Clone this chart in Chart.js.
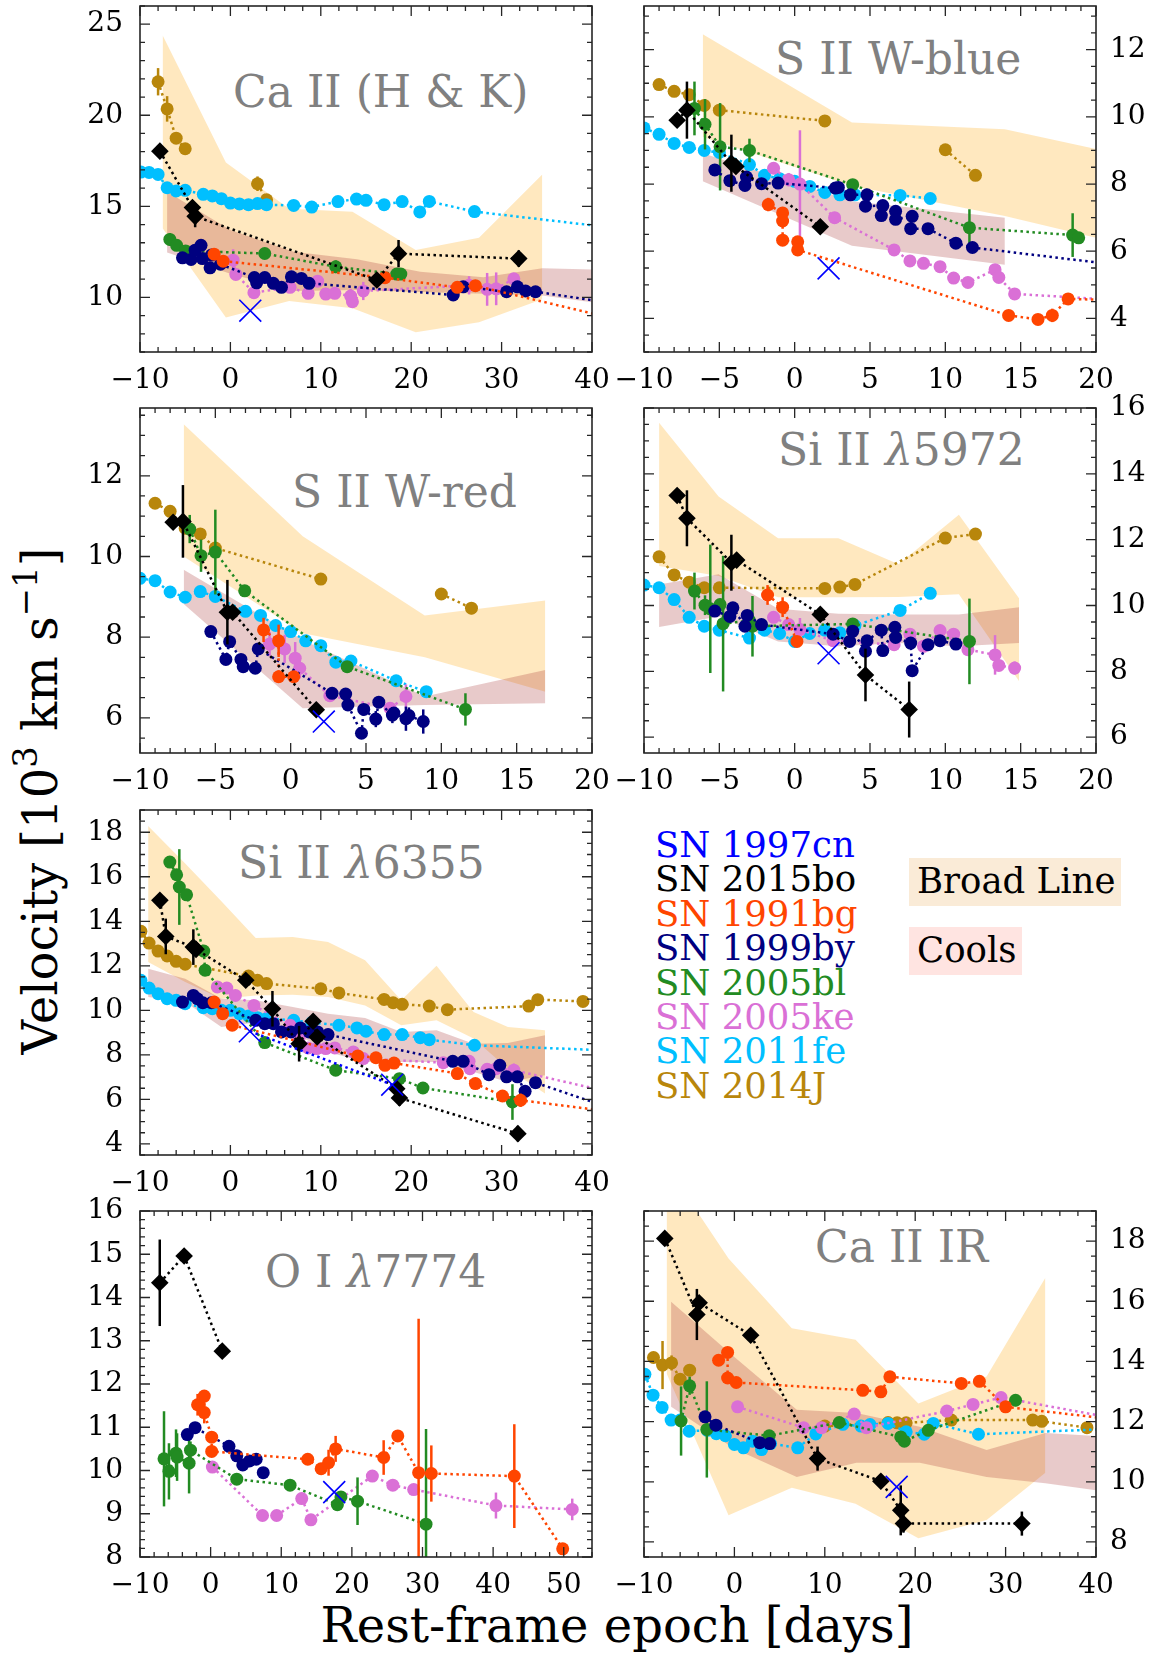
<!DOCTYPE html>
<html>
<head>
<meta charset="utf-8">
<script src="https://cdn.jsdelivr.net/npm/chart.js@4.4.1/dist/chart.umd.min.js"></script>
<style>
  body { margin: 0; background: #fff; width: 1161px; height: 1655px; position: relative; overflow: hidden; font-family: 'DejaVu Serif', serif; }
  canvas { position: absolute; }
  .txt { position: absolute; white-space: nowrap; line-height: 1; }
  .ttl { font-size: 44px; color: #808080; }
  .legend { position: absolute; left: 655px; top: 828px; font-size: 35.5px; line-height: 34.4px; white-space: nowrap; }
  .box { position: absolute; font-size: 35.5px; line-height: 45px; height: 48px; padding-left: 8px; box-sizing: border-box; white-space: nowrap; }
</style>
</head>
<body>

<div class="txt ttl" style="left:233px;top:70px">Ca II (H &amp; K)</div>
<div class="txt ttl" style="left:775px;top:37px">S II W-blue</div>
<div class="txt ttl" style="left:292px;top:470px">S II W-red</div>
<div class="txt ttl" style="left:778px;top:428px">Si II <i>λ</i>5972</div>
<div class="txt ttl" style="left:238px;top:841px">Si II <i>λ</i>6355</div>
<div class="txt ttl" style="left:265px;top:1250px">O I <i>λ</i>7774</div>
<div class="txt ttl" style="left:815px;top:1225px">Ca II IR</div>

<div class="legend">
  <div style="color:#0000ff">SN 1997cn</div>
  <div style="color:#000000">SN 2015bo</div>
  <div style="color:#ff4500">SN 1991bg</div>
  <div style="color:#000080">SN 1999by</div>
  <div style="color:#228b22">SN 2005bl</div>
  <div style="color:#da70d6">SN 2005ke</div>
  <div style="color:#00bfff">SN 2011fe</div>
  <div style="color:#b8860b">SN 2014J</div>
</div>
<div class="box" style="left:909px;top:858px;width:212px;background:#faebd7">Broad Line</div>
<div class="box" style="left:909px;top:927px;width:113px;background:#ffe4e1">Cools</div>

<div class="txt" style="left:40px;top:801px;font-size:48px;transform:translate(-50%,-50%) rotate(-90deg)">Velocity [10<span style="font-size:34px;position:relative;top:-20px">3</span> km s<span style="font-size:34px;position:relative;top:-20px">−1</span>]</div>
<div class="txt" style="left:617px;top:1601px;font-size:48px;transform:translateX(-50%)">Rest-frame epoch [days]</div>

<script>
// supernova names and colours (legend order)
const snNames = ["1997cn", "2015bo", "1991bg", "1999by", "2005bl", "2005ke", "2011fe", "2014J"];
const snColors = ["#0000ff", "#000000", "#ff4500", "#000080", "#228b22", "#da70d6", "#00bfff", "#b8860b"];

// ---- Ca II (H & K) : [epoch, velocity, error] ----
const caHK_97cn = [[2.2, 9.27, 0]];
const caHK_15bo = [[-7.8, 18.03, 0], [-4.2, 14.93, 0.4], [-3.9, 14.45, 0.6], [16.2, 10.95, 0], [18.6, 12.4, 0.75], [31.9, 12.13, 0.45]];
const caHK_91bg = [[-1.8, 12.37, 0], [-0.8, 11.99, 0], [17.1, 11.08, 0], [25.1, 10.55, 0], [27.1, 10.64, 0], [45, 8.53, 0]];
const caHK_99by = [[-5.3, 12.17, 0], [-4.35, 12.08, 0], [-3.9, 12.59, 0], [-3.25, 12.86, 0], [-3.1, 12.13, 0], [-2.25, 11.62, 0], [-2.1, 12.32, 0], [-1.1, 11.82, 0], [2.65, 11.09, 0], [2.9, 10.8, 0], [3.8, 11.09, 0], [4.75, 10.77, 0], [5.65, 10.55, 0], [6.75, 11.13, 0], [7.85, 11.04, 0], [8.7, 10.77, 0], [24.65, 10.13, 0.2], [25.75, 10.58, 0], [30.55, 10.31, 0], [31.75, 10.58, 0], [32.65, 10.35, 0], [33.75, 10.31, 0], [45, 9.48, 0]];
const caHK_05bl = [[-6.7, 13.18, 0.35], [-5.95, 12.86, 0.3], [-4.95, 12.55, 0.3], [3.8, 12.41, 0], [11.65, 11.68, 0.35], [18.4, 11.28, 0], [18.85, 11.28, 0]];
const caHK_05ke = [[0.3, 12.04, 0.6], [0.6, 11.26, 0], [2.6, 10.26, 0], [6.6, 10.55, 0], [8.6, 10.22, 0], [9.65, 10.89, 0], [10.55, 10.18, 0], [11.55, 10.22, 0], [13.3, 10.07, 0.4], [13.5, 9.76, 0.3], [14.7, 10.35, 0.5], [26.4, 10.66, 0.5], [28.4, 10.44, 0.9], [29.4, 10.47, 0.9], [31.35, 11.02, 0.3]];
const caHK_11fe = [[-9.9, 16.88, 0], [-9, 16.86, 0], [-8, 16.75, 0], [-7, 16.02, 0], [-6, 15.84, 0], [-5, 15.88, 0], [-3, 15.66, 0], [-2, 15.57, 0], [-1, 15.42, 0], [0, 15.18, 0], [1, 15.13, 0], [2, 15.09, 0], [3, 15.15, 0], [4, 15.09, 0], [7, 15.05, 0], [9, 14.96, 0], [11.9, 15.26, 0], [13.95, 15.4, 0], [15, 15.33, 0], [17, 15.09, 0], [19, 15.26, 0], [20.95, 14.69, 0], [22, 15.27, 0], [27, 14.71, 0], [45, 13.67, 0]];
const caHK_14J = [[-8, 21.84, 0.75], [-7, 20.35, 0.7], [-6, 18.74, 0.3], [-5, 18.16, 0], [0, null, 0], [3, 16.24, 0.4], [4, 15.36, 0]];
const caHK_broad = [[-7.5, 13.8, 24.4], [-0.5, 8.9, 17.4], [6.5, 9.8, 14.87], [13.5, 9.4, 14.7], [20.5, 8.08, 12.6], [27.5, 8.63, 13.27], [34.5, 9.9, 16.75]];
const caHK_cool = [[-7, 12.46, 15.8], [0, 11.3, 13.7], [7, 10.35, 12.5], [14, 10.4, 12.1], [21, 10.3, 11.4], [28, 10.2, 11.1], [34.5, 10.1, 11.6], [42, 9.6, 11.5]];

// ---- S II W-blue ----
const sb_97cn = [[2.25, 5.49, 0]];
const sb_15bo = [[-7.8, 9.9, 0], [-7.15, 10.2, 0.85], [-4.2, 8.62, 0.85], [-3.9, 8.52, 0], [1.7, 6.73, 0]];
const sb_91bg = [[-1.75, 7.39, 0.2], [-0.8, 7.14, 0.15], [-0.8, 6.9, 0], [-0.8, 6.33, 0], [0.2, 6.28, 0.15], [0.2, 6.04, 0], [14.2, 4.09, 0], [16.15, 3.97, 0], [17.1, 4.09, 0.2], [18.15, 4.58, 0.1], [25, 4.5, 0]];
const sb_99by = [[-5.3, 8.42, 0], [-4.3, 8.1, 0], [-3.3, 7.96, 0], [-3.2, 8.21, 0], [-2.2, 8.01, 0], [-1.1, 8.03, 0], [2.7, 7.88, 0], [2.9, 7.9, 0], [3.7, 7.68, 0], [4.8, 7.68, 0], [4.7, 7.34, 0], [5.85, 7.36, 0], [5.75, 7.06, 0], [6.7, 7.19, 0], [6.7, 6.95, 0], [7.8, 7.04, 0], [7.7, 6.67, 0], [8.85, 6.67, 0], [10.7, 6.24, 0], [11.8, 6.11, 0], [25, 5.4, 0]];
const sb_05bl = [[-6.65, 10.25, 0.8], [-5.95, 9.78, 0.75], [-4.95, 9.11, 1.3], [-3.0, 9.0, 0.35], [3.85, 7.98, 0], [11.6, 6.7, 0.55], [18.45, 6.48, 0.65], [18.85, 6.4, 0]];
const sb_05ke = [[-1.4, 8.47, 0], [-0.4, 8.13, 0.2], [0.35, 8.0, 1.6], [2.65, 7.0, 0], [6.6, 6.04, 0], [7.65, 5.71, 0], [8.55, 5.64, 0], [9.65, 5.54, 0], [10.55, 5.2, 0], [11.5, 5.07, 0], [13.3, 5.45, 0], [13.55, 5.22, 0], [14.6, 4.73, 0], [25, 4.45, 0]];
const sb_11fe = [[-10, 9.67, 0], [-9, 9.48, 0], [-8, 9.21, 0], [-7, 9.09, 0], [-6, 9.0, 0], [-5, 8.94, 0], [-3, 8.58, 0], [-2, 8.26, 0], [-1, 8.16, 0], [0, 8.08, 0], [1, 7.93, 0], [2, 7.75, 0], [3, 7.68, 0], [4, 7.68, 0], [7, 7.66, 0], [9, 7.57, 0]];
const sb_14J = [[-9, 10.96, 0.1], [-8, 10.76, 0], [-7, 10.66, 0], [-6, 10.34, 0], [-5, 10.2, 0], [2, 9.88, 0], [0, null, 0], [10, 9.02, 0], [12, 8.26, 0.15]];
const sb_broad = [[-6.1, 9.4, 12.46], [3.8, 7.95, 9.83], [13.95, 7.05, 9.63], [24, 5.97, 8.65]];
const sb_cool = [[-6.1, 8.08, 8.92], [3.8, 6.16, 7.49], [13.95, 5.6, 7.0]];

// ---- S II W-red ----
const sr_97cn = [[2.2, 5.91, 0]];
const sr_15bo = [[-7.8, 10.85, 0], [-7.15, 10.87, 0.9], [-4.2, 8.62, 0.8], [-3.85, 8.62, 0], [1.7, 6.2, 0]];
const sr_91bg = [[-1.8, 8.18, 0.3], [-0.8, 7.91, 0.4], [-0.8, 7.02, 0], [0.2, 7.02, 0]];
const sr_99by = [[-5.3, 8.14, 0.1], [-4.3, 7.45, 0], [-4.05, 7.89, 0], [-3.3, 7.45, 0], [-3.15, 7.27, 0], [-2.35, 7.23, 0], [-2.15, 7.71, 0], [2.75, 6.61, 0], [3.65, 6.59, 0.15], [3.8, 6.32, 0], [4.7, 5.62, 0.1], [4.85, 6.21, 0], [5.65, 5.97, 0.2], [5.85, 6.39, 0], [6.75, 6.07, 0.2], [6.85, 6.12, 0], [7.65, 5.98, 0.3], [7.85, 6.06, 0.2], [8.8, 5.91, 0.3]];
const sr_05bl = [[-6.7, 10.68, 0.35], [-5.95, 10.02, 0.4], [-5.0, 10.11, 1.05], [-3.05, 9.15, 0], [3.75, 7.27, 0], [11.6, 6.21, 0.4]];
const sr_05ke = [[-1.4, 7.83, 0.3], [-0.4, 7.71, 0.35], [0.3, 7.48, 0.4], [0.6, 7.23, 0.25], [2.6, 6.55, 0], [6.6, 6.24, 0], [7.65, 6.53, 0.3]];
const sr_11fe = [[-10, 9.46, 0], [-9, 9.4, 0], [-8, 9.12, 0], [-7, 8.99, 0], [-6, 9.13, 0], [-5, 9.01, 0], [-3, 8.64, 0], [-2, 8.54, 0], [-1, 8.29, 0], [0, 8.14, 0], [1, 7.91, 0], [2, 7.79, 0], [3, 7.38, 0], [4, 7.41, 0], [7, 6.92, 0], [9, 6.65, 0]];
const sr_14J = [[-9, 11.32, 0], [-8, 11.12, 0], [-7, 10.7, 0], [-6, 10.56, 0], [-5, 10.21, 0], [2, 9.44, 0], [0, null, 0], [10, 9.07, 0], [12, 8.72, 0.15]];
const sr_broad = [[-7.1, 10.0, 13.28], [0.8, 8.1, 10.5], [8.9, 7.5, 8.54], [16.9, 6.65, 8.91]];
const sr_cool = [[-7.1, 8.82, 9.67], [0.8, 6.24, 7.93], [8.9, 6.32, 6.53], [16.9, 6.36, 7.19]];

// ---- Si II 5972 ----
const s5_97cn = [[2.25, 8.55, 0]];
const s5_15bo = [[-7.8, 13.34, 0], [-7.15, 12.65, 0.85], [-4.2, 11.3, 0.85], [-3.85, 11.38, 0], [1.7, 9.73, 0], [4.7, 7.89, 0.8], [7.6, 6.84, 0.85]];
const s5_91bg = [[-1.8, 10.32, 0.3], [-0.8, 9.95, 0.3], [0.15, 8.91, 0]];
const s5_99by = [[-5.3, 9.83, 0], [-4.3, 9.67, 0], [-4.1, 9.93, 0], [-3.3, 9.37, 0], [-3.15, 9.7, 0], [-2.2, 9.42, 0], [2.55, 9.13, 0], [3.65, 8.91, 0], [3.85, 9.22, 0], [4.7, 8.61, 0], [4.8, 8.93, 0], [5.75, 9.25, 0], [5.85, 8.63, 0], [6.65, 9.34, 0], [6.7, 9.03, 0], [7.7, 8.86, 0], [7.8, 8.02, 0], [8.85, 8.81, 0], [9.65, 8.93, 0], [10.7, 8.83, 0]];
const s5_05bl = [[-6.65, 10.44, 0.56], [-5.95, 10.01, 0.3], [-5.6, 9.9, 1.95], [-4.95, 10.03, 0], [-4.75, 9.45, 2.06], [-3.0, 9.54, 0], [-2.8, 9.37, 0.92], [3.85, 9.44, 0], [11.6, 8.91, 1.3]];
const s5_05ke = [[-1.4, 9.64, 0], [-0.4, 9.42, 0], [0.35, 9.27, 0.35], [2.55, 8.93, 0], [6.6, 8.81, 0], [7.65, 9.13, 0], [8.55, 8.76, 0], [9.65, 9.24, 0], [10.55, 9.13, 0], [11.5, 8.66, 0], [13.3, 8.5, 0.6], [13.55, 8.18, 0], [14.6, 8.1, 0.2]];
const s5_11fe = [[-10, 10.62, 0], [-9, 10.54, 0], [-8, 10.18, 0], [-7, 9.64, 0], [-6, 9.37, 0], [-5, 9.25, 0], [-3, 9.01, 0], [-2, 9.25, 0], [-1, 9.15, 0], [0, 8.91, 0], [1, 9.15, 0], [2, 9.25, 0], [3, 9.17, 0], [4, 9.39, 0], [7, 9.85, 0], [9, 10.37, 0]];
const s5_14J = [[-9, 11.48, 0], [-8, 10.93, 0], [-7, 10.71, 0], [-6, 10.54, 0], [-5, 10.54, 0], [2, 10.52, 0.1], [3, 10.56, 0], [4, 10.64, 0.1], [10, 12.05, 0], [12, 12.17, 0]];
const s5_broad = [[-9.0, 11.2, 15.55], [-5.05, 10.9, 13.31], [-1.1, 10.25, 12.04], [2.9, 10.25, 12.04], [6.9, 10.26, 11.25], [10.9, 10.34, 12.76], [14.9, 7.7, 10.21]];
const s5_cool = [[-9.0, 9.35, 10.64], [-5.05, 9.67, 10.95], [-1.1, 8.91, 9.9], [2.9, 8.76, 9.75], [6.9, 8.86, 9.73], [10.9, 8.76, 9.73], [14.9, 8.86, 9.95]];

// ---- Si II 6355 ----
const s6_97cn = [[2.15, 9.06, 0], [17.9, 6.66, 0]];
const s6_15bo = [[-7.8, 14.94, 0], [-7.15, 13.32, 0.8], [-4.1, 12.84, 0.8], [-3.8, 12.74, 0], [1.7, 11.35, 0], [4.65, 10.07, 0.8], [7.6, 8.5, 0.8], [9.15, 9.51, 0.3], [9.6, 8.8, 0.3], [18.4, 6.48, 0.3], [18.7, 6.06, 0.35], [31.8, 4.46, 0.35]];
const s6_91bg = [[-1.8, 10.37, 0], [-0.85, 9.85, 0], [0.2, 9.33, 0], [14.1, 7.95, 0], [16.1, 7.87, 0], [17.1, 7.53, 0], [18.1, 7.63, 0], [25.1, 7.16, 0.2], [27.1, 6.71, 0], [30.1, 6.15, 0], [32.1, 5.96, 0.3], [45, 5.3, 0]];
const s6_99by = [[-5.3, 10.37, 0], [-4.1, 10.67, 0], [-3.65, 10.52, 0], [-3.05, 10.34, 0], [-2.1, 10.34, 0], [2.8, 9.55, 0], [3.8, 9.4, 0], [4.75, 9.4, 0], [5.65, 9.03, 0], [6.7, 9.03, 0], [7.75, 9.21, 0], [8.7, 9.03, 0], [9.65, 9.03, 0], [10.8, 8.91, 0], [24.6, 7.71, 0], [25.75, 7.71, 0], [28.6, 7.11, 0], [29.8, 7.53, 0], [30.55, 7.01, 0], [31.75, 7.01, 0], [32.6, 6.36, 0], [33.75, 6.75, 0], [45, 5.2, 0]];
const s6_05bl = [[-6.7, 16.66, 0.2], [-5.95, 16.09, 0], [-5.65, 15.54, 1.7], [-4.85, 15.19, 0], [-2.95, 12.66, 0.15], [-2.8, 11.8, 0.15], [3.8, 8.55, 0], [11.65, 7.31, 0], [18.7, 6.93, 0.2], [21.3, 6.51, 0], [31.2, 5.88, 0.8]];
const s6_05ke = [[-1.45, 11.05, 0], [-0.4, 11.0, 0], [0.55, 10.67, 0.2], [2.6, 10.22, 0], [6.6, 9.33, 0], [7.6, 8.73, 0], [8.6, 8.31, 0], [9.55, 8.28, 0], [10.55, 8.28, 0], [11.55, 8.31, 0], [13.6, 8.13, 0], [14.7, 7.83, 0], [23.55, 7.65, 0.2], [26.4, 7.71, 0.2], [26.5, 7.38, 0], [28.4, 7.35, 0], [29.4, 7.38, 0], [31.35, 7.31, 0.3], [45, 6.05, 0]];
const s6_11fe = [[-9.9, 11.35, 0], [-9, 11.0, 0], [-8, 10.75, 0], [-7, 10.52, 0], [-6, 10.45, 0], [-5, 10.3, 0], [-3, 10.12, 0], [-2, 10.07, 0], [-1, 10.0, 0], [0, 10.0, 0], [1, 9.85, 0], [2, 9.75, 0], [3, 9.67, 0], [4, 9.63, 0], [7, 9.55, 0], [9, 9.45, 0], [12, 9.33, 0], [14, 9.21, 0], [15, 9.06, 0], [17, 8.91, 0], [19, 8.91, 0], [21, 8.77, 0], [22, 8.68, 0], [27, 8.43, 0], [45, 8.15, 0]];
const s6_14J = [[-9.9, 13.55, 0], [-9, 13.02, 0], [-8, 12.66, 0], [-7, 12.44, 0], [-6, 12.2, 0], [-5, 12.07, 0], [2, 11.54, 0], [3, 11.35, 0], [4, 11.2, 0], [10, 10.97, 0], [12, 10.78, 0], [17, 10.49, 0], [18, 10.34, 0], [19, 10.27, 0], [22, 10.19, 0], [24, 10.03, 0], [33, 10.19, 0], [34, 10.48, 0.2], [39, 10.4, 0.2]];
const s6_broad = [[-9.1, 12.17, 18.28], [-5, 11.27, 16.6], [-1, 10.52, 14.9], [2.8, 10.67, 13.25], [6.9, 10.7, 13.29], [10.8, 10.6, 13.07], [14.9, 10.22, 12.25], [18.9, 9.33, 10.45], [22.8, 9.55, 12.0], [26.9, 8.73, 9.93], [30.7, 7.38, 9.25], [34.8, 6.26, 9.1]];
const s6_cool = [[-9.1, 10.6, 11.87], [-5, 10.37, 11.42], [-1, 9.25, 10.52], [2.8, 9.45, 10.45], [6.9, 9.03, 10.15], [10.8, 8.13, 9.85], [14.9, 7.68, 9.66], [18.9, 7.68, 9.03], [22.8, 7.68, 9.1], [26.9, 7.23, 8.5], [30.7, 6.78, 8.53], [34.8, 7.08, 8.88]];

// ---- O I 7774 ----
const oi_97cn = [[17.5, 9.5, 0]];
const oi_15bo = [[-7.2, 14.34, 1.0], [-3.75, 14.96, 0], [1.65, 12.76, 0]];
const oi_91bg = [[-1.85, 11.52, 0.25], [-0.9, 11.72, 0], [-0.9, 11.34, 0.25], [0.15, 10.77, 0], [0.15, 10.44, 0], [13.75, 10.26, 0], [15.65, 10.04, 0], [16.7, 10.18, 0.3], [17.7, 10.5, 0.3], [24.5, 10.3, 0.4], [26.5, 10.8, 0], [29.45, 9.95, 3.56], [31.25, 9.93, 0.65], [43.0, 9.87, 1.2], [49.85, 8.19, 0]];
const oi_99by = [[-3.3, 10.83, 0], [-2.2, 10.99, 0], [2.6, 10.56, 0], [3.7, 10.34, 0], [4.55, 10.13, 0], [5.5, 10.22, 0], [6.45, 10.26, 0], [7.45, 9.95, 0]];
const oi_05bl = [[-6.6, 10.27, 1.1], [-5.9, 9.98, 0.65], [-4.9, 10.4, 0.55], [-4.75, 10.31, 0.55], [-3.05, 10.17, 0.7], [-2.85, 10.47, 0.2], [3.7, 9.8, 0], [11.25, 9.66, 0], [17.95, 9.21, 0], [18.45, 9.39, 0], [20.8, 9.29, 0.55], [30.5, 8.76, 2.2]];
const oi_05ke = [[0.25, 10.08, 0], [7.35, 8.96, 0], [9.35, 8.96, 0], [12.9, 9.35, 0], [14.2, 8.86, 0], [22.9, 9.87, 0], [25.8, 9.66, 0], [28.75, 9.56, 0], [40.4, 9.19, 0.3], [51.2, 9.1, 0.25]];

// ---- Ca II IR ----
const ir_97cn = [[17.95, 9.83, 0]];
const ir_15bo = [[-7.7, 18.09, 0], [-4.15, 15.56, 0.85], [-3.9, 15.95, 0], [1.8, 14.87, 0], [9.2, 10.77, 0.4], [16.2, 10.02, 0], [18.4, 9.05, 0.83], [18.7, 8.61, 0.3], [31.8, 8.61, 0.4]];
const ir_91bg = [[-1.75, 14.04, 0], [-0.75, 14.3, 0], [-0.75, 13.45, 0], [0.2, 13.3, 0], [14.2, 13.04, 0], [16.2, 12.99, 0], [17.2, 13.49, 0], [25.1, 13.27, 0], [27.1, 13.34, 0], [30.0, 12.49, 0], [45, 11.97, 0]];
const ir_99by = [[-3.25, 12.16, 0], [-2.05, 11.88, 0], [2.8, 11.3, 0], [3.9, 11.27, 0]];
const ir_05bl = [[-5.9, 12.02, 1.15], [-4.95, 13.19, 0.3], [-3.05, 11.74, 1.6], [3.85, 11.53, 0], [11.6, 11.97, 0], [18.4, 11.49, 0], [18.8, 11.35, 0], [21.45, 11.71, 0], [31.1, 12.71, 0.2]];
const ir_05ke = [[0.35, 12.49, 0], [7.65, 11.8, 0], [9.65, 11.8, 0], [13.25, 12.25, 0], [14.6, 11.8, 0], [23.5, 12.35, 0], [26.4, 12.57, 0], [29.5, 12.8, 0], [45, 11.95, 0]];
const ir_11fe = [[-9.9, 13.57, 0], [-9, 12.88, 0], [-8, 12.47, 0], [-7, 12.05, 0], [-6, 12.05, 0], [-5, 11.68, 0], [-3, 11.71, 0], [-2, 11.6, 0], [-1, 11.53, 0], [0, 11.24, 0], [1, 11.13, 0], [2, 11.35, 0], [3, 11.07, 0], [4, 11.27, 0], [7, 11.13, 0], [9, 11.59, 0], [12, 11.91, 0], [14, 11.85, 0], [15, 11.9, 0], [17, 11.94, 0], [19, 11.66, 0], [21, 11.58, 0], [22, 11.94, 0], [27, 11.58, 0], [45, 11.8, 0]];
const ir_14J = [[-8.95, 14.13, 0], [-7.95, 13.88, 0.8], [-6.95, 13.95, 0.25], [-6.0, 13.41, 0], [-4.95, 13.71, 0.2], [0, null, 0], [10.0, 11.85, 0], [17.0, 11.97, 0], [18.0, 11.96, 0], [19.0, 11.96, 0], [24.0, 12.05, 0], [33.0, 12.05, 0], [34.0, 12.01, 0], [39.0, 11.8, 0]];
const ir_broad = [[-7.5, 13.6, 20.5], [-0.65, 8.89, 17.42], [6.35, 9.8, 15.1], [13.4, 9.27, 14.72], [20.35, 8.12, 12.6], [27.9, 8.73, 13.5], [34.4, 10.3, 16.78]];
const ir_cool = [[-7.0, 12.49, 15.98], [0, 11.1, 14.15], [6.9, 10.16, 12.39], [13.5, 10.63, 12.29], [20.5, 10.63, 11.83], [27.9, 10.16, 11.06], [34.4, 9.95, 11.62], [41, 9.68, 11.5]];

// tick labels
const ticks_m10_40 = [-10, 0, 10, 20, 30, 40];
const ticks_m10_20 = [-10, -5, 0, 5, 10, 15, 20];
const ticks_m10_50 = [-10, 0, 10, 20, 30, 40, 50];
const yTicks_caHK = [10, 15, 20, 25];
const yTicks_sb = [4, 6, 8, 10, 12];
const yTicks_sr = [6, 8, 10, 12];
const yTicks_s5 = [6, 8, 10, 12, 14, 16];
const yTicks_s6 = [4, 6, 8, 10, 12, 14, 16, 18];
const yTicks_oi = [8, 9, 10, 11, 12, 13, 14, 15, 16];
const yTicks_ir = [8, 10, 12, 14, 16, 18];

const panels = [
  { side: "left", top: 6, h: 346, xr: [-10, 40], yr: [7, 26], xt: ticks_m10_40, yt: yTicks_caHK, xMinor: 2, yMinor: 1,
    sets: [caHK_97cn, caHK_15bo, caHK_91bg, caHK_99by, caHK_05bl, caHK_05ke, caHK_11fe, caHK_14J], broad: caHK_broad, cool: caHK_cool },
  { side: "right", top: 6, h: 346, xr: [-10, 20], yr: [3, 13.3], xt: ticks_m10_20, yt: yTicks_sb, xMinor: 1, yMinor: 0.5,
    sets: [sb_97cn, sb_15bo, sb_91bg, sb_99by, sb_05bl, sb_05ke, sb_11fe, sb_14J], broad: sb_broad, cool: sb_cool },
  { side: "left", top: 408, h: 345, xr: [-10, 20], yr: [5.13, 13.68], xt: ticks_m10_20, yt: yTicks_sr, xMinor: 1, yMinor: 0.5,
    sets: [sr_97cn, sr_15bo, sr_91bg, sr_99by, sr_05bl, sr_05ke, sr_11fe, sr_14J], broad: sr_broad, cool: sr_cool },
  { side: "right", top: 408, h: 345, xr: [-10, 20], yr: [5.52, 16], xt: ticks_m10_20, yt: yTicks_s5, xMinor: 1, yMinor: 0.5,
    sets: [s5_97cn, s5_15bo, s5_91bg, s5_99by, s5_05bl, s5_05ke, s5_11fe, s5_14J], broad: s5_broad, cool: s5_cool },
  { side: "left", top: 810, h: 345, xr: [-10, 40], yr: [3.5, 19], xt: ticks_m10_40, yt: yTicks_s6, xMinor: 2, yMinor: 0.5,
    sets: [s6_97cn, s6_15bo, s6_91bg, s6_99by, s6_05bl, s6_05ke, s6_11fe, s6_14J], broad: s6_broad, cool: s6_cool },
  { side: "left", top: 1211, h: 346, xr: [-10, 54], yr: [8, 16], xt: ticks_m10_50, yt: yTicks_oi, xMinor: 2, yMinor: 0.2,
    sets: [oi_97cn, oi_15bo, oi_91bg, oi_99by, oi_05bl, oi_05ke, [], []], broad: null, cool: null },
  { side: "right", top: 1211, h: 346, xr: [-10, 40], yr: [7.5, 19], xt: ticks_m10_40, yt: yTicks_ir, xMinor: 2, yMinor: 0.5,
    sets: [ir_97cn, ir_15bo, ir_91bg, ir_99by, ir_05bl, ir_05ke, ir_11fe, ir_14J], broad: ir_broad, cool: ir_cool }
];

Chart.defaults.font.family = "'DejaVu Serif', serif";
Chart.defaults.color = "#000";

// Vertical error bars, drawn just under each dataset's markers
const errorBars = {
  id: "errorBars",
  beforeDatasetDraw(chart, args) {
    const ds = chart.data.datasets[args.index];
    if (!ds.errs) return;
    const { ctx, chartArea: a } = chart;
    const xs = chart.scales.x, ys = chart.scales.y;
    ctx.save();
    ctx.beginPath();
    ctx.rect(a.left, a.top, a.right - a.left, a.bottom - a.top);
    ctx.clip();
    ctx.strokeStyle = ds.borderColor;
    ctx.lineWidth = 2.5;
    ctx.setLineDash([]);
    ds.data.forEach((p, i) => {
      const e = ds.errs[i];
      if (!e || p.y == null) return;
      const px = xs.getPixelForValue(p.x);
      ctx.beginPath();
      ctx.moveTo(px, ys.getPixelForValue(p.y - e));
      ctx.lineTo(px, ys.getPixelForValue(p.y + e));
      ctx.stroke();
    });
    ctx.restore();
  }
};

// matplotlib-like frame with inward major/minor ticks on all sides
const frameTicks = {
  id: "frameTicks",
  afterDatasetsDraw(chart, args, opts) {
    const { ctx, chartArea: a } = chart;
    const xs = chart.scales.x, ys = chart.scales.y;
    const walk = (scale, step, majors, fn) => {
      const k0 = Math.ceil(scale.min / step - 1e-6), k1 = Math.floor(scale.max / step + 1e-6);
      for (let k = k0; k <= k1; k++) {
        const v = k * step;
        const major = majors.some((m) => Math.abs(m - v) < 1e-6);
        fn(scale.getPixelForValue(v), major ? 10 : 5);
      }
    };
    ctx.save();
    ctx.strokeStyle = "#262626";
    ctx.lineWidth = 1.3;
    ctx.beginPath();
    walk(xs, opts.xMinor, opts.xt, (p, len) => {
      ctx.moveTo(p, a.bottom); ctx.lineTo(p, a.bottom - len);
      ctx.moveTo(p, a.top); ctx.lineTo(p, a.top + len);
    });
    walk(ys, opts.yMinor, opts.yt, (p, len) => {
      ctx.moveTo(a.left, p); ctx.lineTo(a.left + len, p);
      ctx.moveTo(a.right, p); ctx.lineTo(a.right - len, p);
    });
    ctx.stroke();
    ctx.lineWidth = 1.6;
    ctx.strokeRect(a.left, a.top, a.right - a.left, a.bottom - a.top);
    ctx.restore();
  }
};

function fmt(v) {
  return v < 0 ? "\u2212" + Math.abs(v) : String(v);
}

function seriesDataset(i, rows) {
  const name = snNames[i];
  const color = snColors[i];
  const style = name === "2015bo" ? "rectRot" : name === "1997cn" ? "crossRot" : "circle";
  return {
    label: "SN " + name,
    data: rows.map((r) => ({ x: r[0], y: r[1] })),
    errs: rows.map((r) => r[2]),
    borderColor: color,
    backgroundColor: color,
    borderWidth: 2.5,
    borderDash: [2.5, 3.5],
    pointStyle: style,
    pointRadius: style === "crossRot" ? 15.5 : style === "rectRot" ? 8.8 : 6.5,
    pointBorderWidth: style === "crossRot" ? 1.6 : 0,
    pointBorderColor: color,
    pointBackgroundColor: color,
    fill: false,
    tension: 0,
    clip: 0,
    order: i
  };
}

function bandDatasets(rows, color, order) {
  return [
    { data: rows.map((r) => ({ x: r[0], y: r[1] })), borderColor: "rgba(0,0,0,0)", borderWidth: 0, pointRadius: 0, fill: false, clip: 0, order: order },
    { data: rows.map((r) => ({ x: r[0], y: r[2] })), borderColor: "rgba(0,0,0,0)", borderWidth: 0, pointRadius: 0, fill: "-1", backgroundColor: color, clip: 0, order: order }
  ];
}

const PAD_TOP = 20;

panels.forEach((p) => {
  const isLeft = p.side === "left";
  const canvas = document.createElement("canvas");
  const cw = isLeft ? 620 : 561;
  const ch = PAD_TOP + p.h + 58;
  canvas.width = cw;
  canvas.height = ch;
  canvas.style.left = (isLeft ? 0 : 600) + "px";
  canvas.style.top = (p.top - PAD_TOP) + "px";
  canvas.style.width = cw + "px";
  canvas.style.height = ch + "px";
  document.body.appendChild(canvas);

  const datasets = [];
  p.sets.forEach((rows, i) => { if (rows.length) datasets.push(seriesDataset(i, rows)); });
  if (p.broad) datasets.push(...bandDatasets(p.broad, "rgba(255,165,0,0.25)", 101));
  if (p.cool) datasets.push(...bandDatasets(p.cool, "rgba(165,42,42,0.25)", 100));

  const zeroPad = (s) => { s.paddingLeft = 0; s.paddingRight = 0; s.paddingTop = 0; s.paddingBottom = 0; };

  new Chart(canvas, {
    type: "line",
    data: { datasets },
    options: {
      responsive: false,
      animation: false,
      events: [],
      layout: { padding: isLeft ? { left: 40, right: 28, top: PAD_TOP, bottom: 8 } : { left: 44, right: 15, top: PAD_TOP, bottom: 8 } },
      scales: {
        x: {
          type: "linear", min: p.xr[0], max: p.xr[1],
          afterBuildTicks: (s) => { s.ticks = p.xt.map((v) => ({ value: v })); },
          afterFit: (s) => { s.height = 50; zeroPad(s); },
          grid: { display: false, drawTicks: false },
          border: { display: false },
          ticks: { padding: 12, maxRotation: 0, autoSkip: false, font: { size: 28 }, color: "#000", callback: fmt }
        },
        y: {
          type: "linear", position: isLeft ? "left" : "right", min: p.yr[0], max: p.yr[1],
          afterBuildTicks: (s) => { s.ticks = p.yt.map((v) => ({ value: v })); },
          afterFit: (s) => { s.width = isLeft ? 100 : 50; zeroPad(s); },
          grid: { display: false, drawTicks: false },
          border: { display: false },
          ticks: { padding: isLeft ? 17 : 14, autoSkip: false, font: { size: 28 }, color: "#000", callback: fmt }
        }
      },
      plugins: {
        legend: { display: false },
        tooltip: { enabled: false },
        frameTicks: { xt: p.xt, yt: p.yt, xMinor: p.xMinor, yMinor: p.yMinor }
      }
    },
    plugins: [errorBars, frameTicks]
  });
});
</script>
</body>
</html>
